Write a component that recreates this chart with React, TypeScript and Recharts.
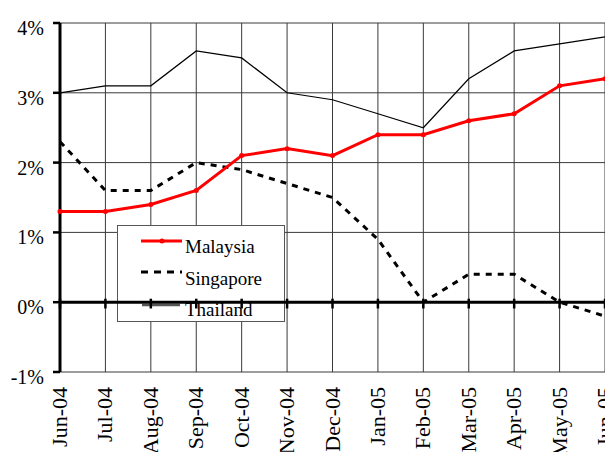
import React from 'react';
import { LineChart, Line, XAxis, YAxis, CartesianGrid, ReferenceLine, Customized } from 'recharts';

const categories = ['Jun-04', 'Jul-04', 'Aug-04', 'Sep-04', 'Oct-04', 'Nov-04', 'Dec-04', 'Jan-05', 'Feb-05', 'Mar-05', 'Apr-05', 'May-05', 'Jun-05'];
const malaysia = [1.3, 1.3, 1.4, 1.6, 2.1, 2.2, 2.1, 2.4, 2.4, 2.6, 2.7, 3.1, 3.2];
const singapore = [2.3, 1.6, 1.6, 2.0, 1.9, 1.7, 1.5, 0.9, 0.0, 0.4, 0.4, 0.0, -0.2];
const thailand = [3.0, 3.1, 3.1, 3.6, 3.5, 3.0, 2.9, 2.7, 2.5, 3.2, 3.6, 3.7, 3.8];
const yTicks = [-1, 0, 1, 2, 3, 4];
const seriesNames = ['Malaysia', 'Singapore', 'Thailand'];

const data = categories.map((month, i) => ({
  month,
  Malaysia: malaysia[i],
  Singapore: singapore[i],
  Thailand: thailand[i],
}));

const FONT = '"Liberation Serif", "Times New Roman", serif';

const YTick = (props: any) => {
  const { x, y, payload } = props;
  return (
    <text x={x} y={y} dy={12} textAnchor="end" fontFamily={FONT} fontSize={20} fill="#000">
      {`${payload.value}%`}
    </text>
  );
};

const XTick = (props: any) => {
  const { x, y, payload } = props;
  const bx = x + 7;
  return (
    <text
      x={bx}
      y={y}
      transform={`rotate(-90, ${bx}, ${y})`}
      textAnchor="end"
      fontFamily={FONT}
      fontSize={22}
      fill="#000"
    >
      {payload.value}
    </text>
  );
};

const LegendBox = () => (
  <g>
    <rect x={117.5} y={225.5} width={167} height={96} fill="#fff" stroke="#555" strokeWidth={1} />
    <line x1={141} x2={182} y1={241} y2={241} stroke="#ff0000" strokeWidth={3} />
    <circle cx={162} cy={241} r={2.5} fill="#ff0000" />
    <text x={185} y={253} fontFamily={FONT} fontSize={19} fill="#000">{seriesNames[0]}</text>
    <line x1={141} x2={182} y1={272} y2={272} stroke="#000" strokeWidth={3} strokeDasharray="7 6" />
    <text x={185} y={285} fontFamily={FONT} fontSize={19} fill="#000">{seriesNames[1]}</text>
    <line x1={142} x2={180} y1={305} y2={305} stroke="#555" strokeWidth={2.5} />
    <text x={185} y={316} fontFamily={FONT} fontSize={19} fill="#000">{seriesNames[2]}</text>
  </g>
);

export default function App() {
  return (
    <div style={{ position: 'absolute', left: 0, top: 0, width: 605, height: 452, overflow: 'hidden', background: '#fff' }}>
      <LineChart width={640} height={452} data={data} margin={{ top: 23, right: 35, bottom: 0, left: 0 }}>
        <CartesianGrid stroke="#3a3a3a" strokeWidth={1} />
        <XAxis
          dataKey="month"
          scale="point"
          padding={{ left: 0, right: 0 }}
          interval={0}
          axisLine={false}
          tickLine={false}
          tickSize={0}
          tickMargin={15}
          height={80}
          tick={<XTick />}
        />
        <YAxis
          domain={[-1, 4]}
          ticks={yTicks}
          width={60}
          axisLine={{ stroke: '#000', strokeWidth: 3 }}
          tickLine={{ stroke: '#000', strokeWidth: 2.5 }}
          tickSize={7}
          tickMargin={9}
          tick={<YTick />}
        />
        <Line dataKey="Thailand" stroke="#000" strokeWidth={1.2} dot={false} isAnimationActive={false} />
        <Line dataKey="Singapore" stroke="#000" strokeWidth={3} strokeDasharray="6 6" dot={false} isAnimationActive={false} />
        <Line
          dataKey="Malaysia"
          stroke="#ff0000"
          strokeWidth={3}
          dot={{ r: 2.5, fill: '#ff0000', stroke: '#ff0000', strokeWidth: 0 }}
          isAnimationActive={false}
        />
        <Customized component={LegendBox} />
        <ReferenceLine y={0} stroke="#000" strokeWidth={3} />
        {categories.map((c) => (
          <ReferenceLine
            key={c}
            segment={[{ x: c, y: 0.05 }, { x: c, y: -0.09 }]}
            stroke="#000"
            strokeWidth={2.5}
          />
        ))}
      </LineChart>
    </div>
  );
}
